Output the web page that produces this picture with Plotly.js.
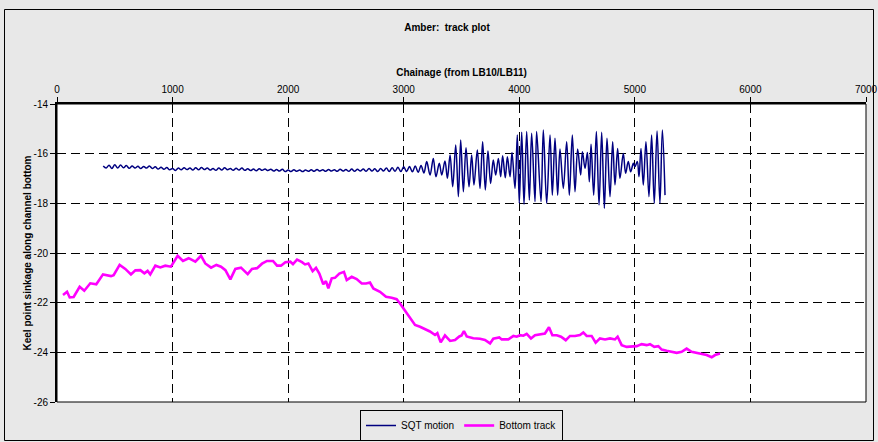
<!DOCTYPE html>
<html>
<head>
<meta charset="utf-8">
<script src="https://cdn.plot.ly/plotly-3.0.1.min.js"></script>
<style>
html,body{margin:0;padding:0;background:#e8e8e8;}
#chart{width:878px;height:442px;}
</style>
</head>
<body>
<div id="chart"></div>
<script>
// ---- data ----
const chartTitle = "Amber:  track plot";
const xTitle = "Chainage (from LB10/LB11)";
const yTitle = "Keel point sinkage along channel bottom";
const yTickVals = [-26, -24, -22, -20, -18, -16, -14];
const yTickText = ["-26", "-24", "-22", "-20", "-18", "-16", "-14"];
const xTickVals = [0, 1000, 2000, 3000, 4000, 5000, 6000, 7000];

const sqtName = "SQT motion";
const sqtX = [400,425,450,475,500,525,550,575,600,625,650,675,700,725,750,775,800,825,850,875,900,925,950,975,
  1000,1025,1050,1075,1100,1125,1150,1175,1200,1225,1250,1275,1300,1325,1350,1375,1400,1425,1450,1475,
  1500,1525,1550,1575,1600,1625,1650,1675,1700,1725,1750,1775,1800,1825,1850,1875,1900,1925,1950,1975,
  2000,2025,2050,2075,2100,2125,2150,2175,2200,2225,2250,2275,2300,2325,2350,2375,2400,2425,2450,2475,
  2500,2525,2550,2575,2600,2625,2650,2675,2700,2725,2750,2775,2800,2825,2850,2875,2900,2925,2950,2975,
  3000,3025,3050,3075,3100,3125,3150,3175,
  3199,3228,3256,3279,3308,3329,3357,3378,3401,3424,3450,3473,3493,3516,3539,3565,3588,3608,3637,3660,
  3683,3706,3729,3752,3775,3796,3819,3839,3856,3879,3897,3920,3937,3963,3983,4000,4021,4041,4064,4087,
  4107,4136,4150,4188,4208,4237,4266,4286,4309,4332,4352,4381,4410,4433,4459,4482,4505,4531,4546,4569,
  4589,4606,4621,4644,4667,4690,4713,4736,4759,4785,4808,4828,4851,4871,4900,4920,4943,4964,4987,5001,
  5021,5036,5053,5073,5096,5122,5145,5168,5192,5217,5238,5261];
const sqtY = [-16.50,-16.58,-16.47,-16.60,-16.45,-16.58,-16.46,-16.57,-16.48,-16.59,-16.50,-16.58,-16.51,-16.60,-16.52,-16.58,-16.50,-16.60,-16.53,-16.62,-16.55,-16.63,-16.56,-16.65,
  -16.60,-16.68,-16.58,-16.65,-16.57,-16.64,-16.58,-16.66,-16.57,-16.65,-16.56,-16.64,-16.58,-16.66,-16.60,-16.67,-16.58,-16.66,-16.57,-16.65,
  -16.60,-16.67,-16.59,-16.66,-16.58,-16.67,-16.61,-16.68,-16.62,-16.69,-16.61,-16.67,-16.62,-16.68,-16.63,-16.70,-16.64,-16.70,-16.63,-16.72,
  -16.66,-16.72,-16.65,-16.71,-16.66,-16.72,-16.66,-16.71,-16.65,-16.71,-16.64,-16.70,-16.65,-16.71,-16.64,-16.70,-16.65,-16.71,-16.63,-16.70,
  -16.64,-16.71,-16.62,-16.71,-16.63,-16.70,-16.62,-16.71,-16.60,-16.70,-16.61,-16.72,-16.60,-16.70,-16.58,-16.72,-16.57,-16.71,-16.55,-16.72,
  -16.53,-16.72,-16.52,-16.73,-16.50,-16.75,-16.48,-16.78,
  -16.32,-16.86,-16.19,-16.93,-16.39,-16.86,-16.30,-16.99,-16.05,-17.33,-15.65,-17.73,-15.45,-17.53,-15.76,-17.33,-16.05,-17.26,-15.85,-17.40,
  -15.52,-17.46,-15.89,-17.20,-16.26,-16.86,-16.19,-16.93,-16.08,-16.97,-16.12,-16.93,-15.95,-17.40,-15.25,-18.00,-15.14,-18.04,-15.11,-17.87,
  -15.18,-17.93,-15.11,-17.93,-15.05,-18.00,-15.25,-17.67,-15.38,-17.67,-15.81,-17.40,-15.52,-17.67,-15.25,-17.53,-15.81,-16.86,-15.92,-16.59,
  -15.95,-17.13,-15.62,-17.67,-15.11,-18.07,-15.14,-18.20,-15.38,-17.73,-15.52,-17.26,-15.79,-16.99,-15.99,-16.79,-16.32,-16.73,-16.39,-16.52,
  -16.32,-16.93,-15.79,-17.26,-15.52,-17.73,-15.25,-18.00,-15.09,-18.00,-15.05,-17.67];

const bottomName = "Bottom track";
const bottomX = [52,87,110,144,196,236,288,340,398,438,467,490,542,591,640,678,721,756,784,807,851,894,937,986,
  1044,1090,1139,1197,1246,1283,1333,1379,1419,1457,1500,1543,1592,1650,1687,1731,1774,1817,1869,1904,1938,1976,2019,2042,2077,2120,
  2146,2175,2212,2241,2270,2304,2327,2348,2377,2405,2443,2483,2507,2550,2593,2637,2674,2708,2737,2795,2847,2896,2939,2968,
  3020,3069,3098,3141,3184,3227,3271,3291,3320,3357,3401,3444,3481,3501,3521,3545,3602,3660,3703,3747,3775,3827,
  3848,3905,3949,3978,4006,4035,4064,4101,4136,4179,4222,4257,4286,4324,4361,4402,4439,4482,4525,4554,4583,4626,4661,4698,
  4742,4785,4828,4851,4886,4929,4972,5016,5059,5102,5131,5168,5203,5232,5275,5318,5362,5405,5448,5491,5535,5578,5621,5665,5694,5737];
const bottomY = [-21.69,-21.56,-21.79,-21.77,-21.36,-21.52,-21.22,-21.26,-20.86,-20.89,-20.93,-20.89,-20.48,-20.64,-20.86,-20.70,-20.69,-20.82,-20.72,-20.86,-20.51,-20.58,-20.51,-20.55,
  -20.11,-20.32,-20.21,-20.35,-20.11,-20.42,-20.59,-20.48,-20.55,-20.69,-21.06,-20.64,-20.59,-20.85,-20.64,-20.61,-20.43,-20.32,-20.32,-20.51,-20.51,-20.37,-20.35,-20.45,-20.27,-20.37,
  -20.46,-20.42,-20.73,-20.60,-20.83,-21.26,-21.13,-21.42,-21.02,-21.00,-20.83,-20.76,-21.09,-20.96,-21.05,-21.23,-21.23,-21.19,-21.43,-21.56,-21.76,-21.80,-21.86,-22.03,
  -22.36,-22.70,-22.90,-22.97,-23.06,-23.16,-23.30,-23.23,-23.60,-23.32,-23.54,-23.50,-23.36,-23.32,-23.14,-23.36,-23.43,-23.45,-23.50,-23.64,-23.45,-23.40,
  -23.48,-23.48,-23.34,-23.37,-23.31,-23.33,-23.26,-23.44,-23.31,-23.26,-23.24,-22.99,-23.31,-23.31,-23.37,-23.51,-23.34,-23.34,-23.30,-23.20,-23.34,-23.34,-23.61,-23.44,
  -23.48,-23.44,-23.48,-23.37,-23.71,-23.78,-23.78,-23.75,-23.67,-23.71,-23.67,-23.78,-23.75,-23.89,-23.94,-23.98,-24.02,-23.98,-23.85,-23.98,-24.02,-24.05,-24.11,-24.20,-24.11,-24.05];

// ---- chart ----
const font = "Liberation Sans, Arial, sans-serif";
const traces = [
  {x: sqtX, y: sqtY, name: sqtName, type: "scatter", mode: "lines",
   line: {color: "#000080", width: 1.5, shape: "spline", smoothing: 1}},
  {x: bottomX, y: bottomY, name: bottomName, type: "scatter", mode: "lines",
   line: {color: "#ff00ff", width: 2.6}}
];

const L = 57, R = 866, T = 104, B = 402, W = 878, H = 442;
const px2x = p => (p - L) / (R - L);
const py2y = p => (B - p) / (B - T);

const layout = {
  width: W, height: H,
  margin: {l: L, r: W - R, t: T, b: H - B, pad: 0, autoexpand: false},
  paper_bgcolor: "#e8e8e8",
  plot_bgcolor: "#ffffff",
  font: {family: font, size: 10, color: "#000"},
  showlegend: true,
  title: {text: "<b>" + chartTitle + "</b>", font: {family: font, size: 10, color: "#000"},
          x: px2x(447), xref: "paper", xanchor: "center", y: 1 - 27 / H, yref: "container", yanchor: "middle"},
  xaxis: {
    side: "top", range: [0, 7000], tickvals: xTickVals, ticktext: xTickVals.map(String),
    ticks: "outside", ticklen: 5, tickcolor: "#000", tickwidth: 1,
    showline: true, linecolor: "#000", linewidth: 2,
    showgrid: true, gridcolor: "#000", gridwidth: 1, griddash: "9px,5px",
    zeroline: false, tickfont: {family: font, size: 10, color: "#000"},
    title: {text: "<b>" + xTitle + "</b>", font: {family: font, size: 10, color: "#000"}, standoff: 6}
  },
  yaxis: {
    range: [-26, -14], tickvals: yTickVals, ticktext: yTickText,
    ticks: "outside", ticklen: 5, tickcolor: "#000", tickwidth: 1,
    showline: true, linecolor: "#000", linewidth: 2,
    showgrid: true, gridcolor: "#000", gridwidth: 1, griddash: "9px,5px",
    zeroline: false, tickfont: {family: font, size: 10, color: "#000"},
    title: {text: "<b>" + yTitle + "</b>", font: {family: font, size: 10, color: "#000"}, standoff: 0}
  },
  legend: {
    orientation: "h", x: 0.5, xanchor: "center", y: py2y(441), yanchor: "bottom",
    bgcolor: "#e8e8e8", bordercolor: "#000", borderwidth: 1,
    font: {family: font, size: 10, color: "#000"}, itemwidth: 30, tracegroupgap: 0
  },
  shapes: [
    {type: "rect", xref: "paper", yref: "paper", x0: 0, x1: 1, y0: 0, y1: 1,
     line: {color: "#000", width: 1}, fillcolor: "rgba(0,0,0,0)"},
    {type: "rect", xref: "paper", yref: "paper", x0: px2x(4.5), x1: px2x(873.5), y0: py2y(440.5), y1: py2y(9.5),
     line: {color: "#000", width: 1}, fillcolor: "rgba(0,0,0,0)"}
  ]
};

Plotly.newPlot("chart", traces, layout, {displayModeBar: false, staticPlot: true});
</script>
</body>
</html>
